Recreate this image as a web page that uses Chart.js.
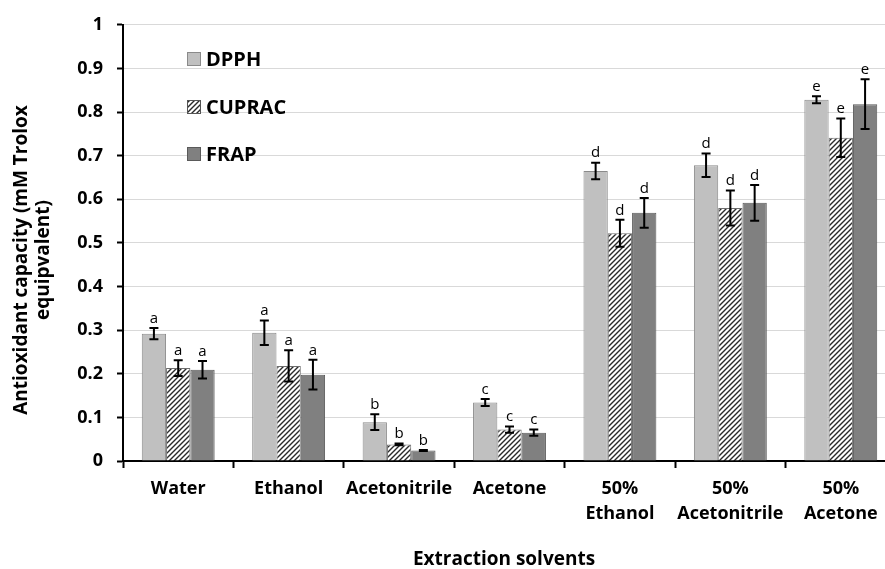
<!DOCTYPE html>
<html>
<head>
<meta charset="utf-8">
<script src="https://cdn.jsdelivr.net/npm/chart.js@4/dist/chart.umd.min.js"></script>
<style>
  html, body { margin: 0; padding: 0; background: #fff; overflow: hidden; }
  #wrap { width: 900px; height: 569px; }
</style>
</head>
<body>
<div id="wrap"><canvas id="chart" width="900" height="569"></canvas></div>
<script>
const categories = ["Water", "Ethanol", "Acetonitrile", "Acetone", ["50%", "Ethanol"], ["50%", "Acetonitrile"], ["50%", "Acetone"]];
const dpph = [0.292, 0.294, 0.089, 0.134, 0.665, 0.678, 0.828];
const dpphErr = [0.013, 0.028, 0.018, 0.008, 0.019, 0.027, 0.008];
const cuprac = [0.213, 0.218, 0.038, 0.072, 0.522, 0.580, 0.741];
const cupracErr = [0.018, 0.036, 0.002, 0.007, 0.031, 0.040, 0.044];
const frap = [0.209, 0.198, 0.024, 0.065, 0.569, 0.592, 0.818];
const frapErr = [0.020, 0.034, 0.001, 0.007, 0.034, 0.041, 0.057];
const letters = ["a", "a", "b", "c", "d", "d", "e"];

const FONT = "'Open Sans', sans-serif";

// diagonal hatch for CUPRAC
function makeHatch() {
  const c = document.createElement("canvas");
  c.width = 5;
  c.height = 5;
  const g = c.getContext("2d");
  g.fillStyle = "#fff";
  g.fillRect(0, 0, 5, 5);
  g.strokeStyle = "#2a2a2a";
  g.lineWidth = 1.4;
  g.beginPath();
  g.moveTo(0, 5); g.lineTo(5, 0);
  g.moveTo(-1, 1); g.lineTo(1, -1);
  g.moveTo(4, 6); g.lineTo(6, 4);
  g.stroke();
  return g.createPattern(c, "repeat");
}
const hatch = makeHatch();

const errs = [dpphErr, cupracErr, frapErr];

const errorBars = {
  id: "errorBars",
  afterDatasetsDraw(chart) {
    const ctx = chart.ctx;
    const y = chart.scales.y;
    ctx.save();
    chart.data.datasets.forEach((ds, i) => {
      const meta = chart.getDatasetMeta(i);
      meta.data.forEach((bar, j) => {
        const v = ds.data[j];
        const e = errs[i][j];
        const top = y.getPixelForValue(v + e);
        const bot = y.getPixelForValue(v - e);
        ctx.strokeStyle = "#000";
        ctx.lineWidth = 2;
        ctx.beginPath();
        ctx.moveTo(bar.x, top); ctx.lineTo(bar.x, bot);
        ctx.moveTo(bar.x - 4.5, top); ctx.lineTo(bar.x + 4.5, top);
        ctx.moveTo(bar.x - 4.5, bot); ctx.lineTo(bar.x + 4.5, bot);
        ctx.stroke();
        ctx.fillStyle = "#000";
        ctx.font = "15px " + FONT;
        ctx.textAlign = "center";
        ctx.textBaseline = "bottom";
        ctx.fillText(letters[j], bar.x, top - 2);
      });
    });
    ctx.restore();
  }
};

const texts = {
  id: "texts",
  afterDraw(chart) {
    const ctx = chart.ctx;
    const items = [
      { label: "DPPH", fill: "#c0c0c0", border: "#8a8a8a", y: 59 },
      { label: "CUPRAC", fill: hatch, border: "#555", y: 107 },
      { label: "FRAP", fill: "#808080", border: "#5a5a5a", y: 154 }
    ];
    ctx.save();
    items.forEach(it => {
      ctx.fillStyle = it.fill;
      ctx.fillRect(187.5, it.y - 6.5, 13, 13);
      ctx.strokeStyle = it.border;
      ctx.lineWidth = 1;
      ctx.strokeRect(187.5, it.y - 6.5, 13, 13);
      ctx.fillStyle = "#000";
      ctx.font = "bold 20px " + FONT;
      ctx.textAlign = "left";
      ctx.textBaseline = "middle";
      ctx.fillText(it.label, 206, it.y + 1);
    });
    // x axis title
    ctx.font = "bold 19px " + FONT;
    ctx.textAlign = "center";
    ctx.textBaseline = "middle";
    ctx.fillText("Extraction solvents", 504, 560);
    // y axis title
    ctx.translate(0, 260);
    ctx.rotate(-Math.PI / 2);
    ctx.fillText("Antioxidant capacity (mM Trolox", 0, 22);
    ctx.fillText("equipvalent)", 0, 44);
    ctx.restore();
  }
};

new Chart(document.getElementById("chart"), {
  type: "bar",
  data: {
    labels: categories,
    datasets: [
      { label: "DPPH", data: dpph, backgroundColor: "#c0c0c0", borderColor: "#8a8a8a", borderWidth: 1 },
      { label: "CUPRAC", data: cuprac, backgroundColor: hatch, borderColor: "#6e6e6e", borderWidth: 1 },
      { label: "FRAP", data: frap, backgroundColor: "#808080", borderColor: "#5a5a5a", borderWidth: 1 }
    ]
  },
  options: {
    responsive: false,
    animation: false,
    layout: { padding: { top: 9, right: 4, bottom: 0, left: 0 } },
    categoryPercentage: 0.66,
    barPercentage: 1,
    plugins: {
      legend: { display: false },
      tooltip: { enabled: false }
    },
    scales: {
      x: {
        offset: true,
        grid: { display: true, drawOnChartArea: false, offset: true, tickLength: 7, tickColor: "#000", tickWidth: 2 },
        border: { color: "#000", width: 2 },
        ticks: { color: "#000", font: { family: FONT, size: 18, weight: "bold", lineHeight: 1.35 }, padding: 9, maxRotation: 0, autoSkip: false },
        afterFit(scale) { scale.height = 108; }
      },
      y: {
        min: 0,
        max: 1,
        ticks: {
          stepSize: 0.1,
          color: "#000",
          padding: 14,
          font: { family: FONT, size: 18, weight: "bold" },
          callback: v => Math.round(v * 10) / 10
        },
        grid: { color: "#d9d9d9", tickColor: "#000", tickLength: 6, tickWidth: 2 },
        border: { color: "#000", width: 2 },
        afterFit(scale) { scale.width = 123; }
      }
    }
  },
  plugins: [errorBars, texts]
});
</script>
</body>
</html>
